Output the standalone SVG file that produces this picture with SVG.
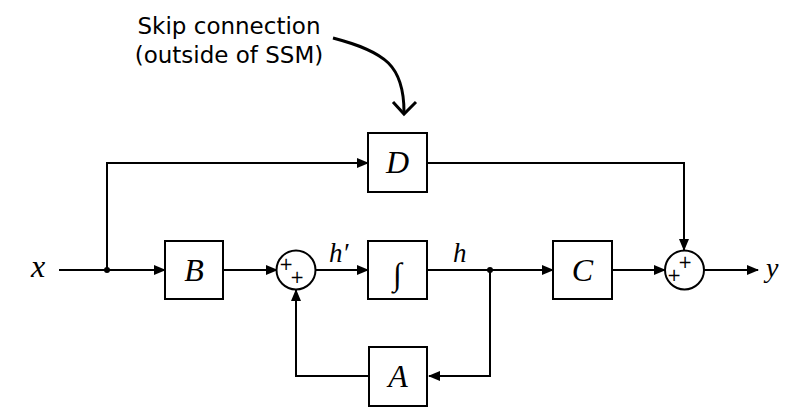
<svg xmlns="http://www.w3.org/2000/svg" width="811" height="414" viewBox="0 0 811 414">
<style>
.box{fill:#fff;stroke:#000;stroke-width:2}
.sum{fill:#fff;stroke:#000;stroke-width:2}
.wire{fill:none;stroke:#000;stroke-width:2}
.m{font-family:"Liberation Serif","DejaVu Serif",serif;font-style:italic;fill:#000}
.lbl{font-family:"Liberation Serif","DejaVu Serif",serif;font-style:italic;font-size:32px;text-anchor:middle;fill:#000}
.pl{font-family:"DejaVu Sans",sans-serif;font-size:17px;text-anchor:middle;fill:#000}
.note{font-family:"DejaVu Sans",sans-serif;font-size:23px;text-anchor:middle;fill:#000}
</style>
<defs>
<marker id="ah" markerWidth="12" markerHeight="10" refX="11" refY="5" orient="auto" markerUnits="userSpaceOnUse">
<path d="M0,0 L12,5 L0,10 z" fill="#000"/>
</marker>
</defs>
<rect width="811" height="414" fill="#fff"/>
<g id="note">
<text class="note" x="229" y="34">Skip connection</text>
<text class="note" x="229" y="63">(outside of SSM)</text>
<path d="M333,38 C386,52 404,66 404,112" fill="none" stroke="#000" stroke-width="3"/>
<path d="M393,102 L404,114 L416,102" fill="none" stroke="#000" stroke-width="3"/>
</g>
<g id="connectors">
<line class="wire" x1="59" y1="270" x2="165" y2="270" marker-end="url(#ah)"/>
<polyline class="wire" points="107,270 107,163 368,163" marker-end="url(#ah)"/>
<line class="wire" x1="223" y1="270" x2="277" y2="270" marker-end="url(#ah)"/>
<line class="wire" x1="315" y1="270" x2="368" y2="270" marker-end="url(#ah)"/>
<line class="wire" x1="427" y1="270" x2="553" y2="270" marker-end="url(#ah)"/>
<polyline class="wire" points="490,270 490,376 429,376" marker-end="url(#ah)"/>
<polyline class="wire" points="369,376 296,376 296,290" marker-end="url(#ah)"/>
<line class="wire" x1="612" y1="270" x2="665" y2="270" marker-end="url(#ah)"/>
<polyline class="wire" points="427,163 684,163 684,250" marker-end="url(#ah)"/>
<line class="wire" x1="704" y1="270" x2="758" y2="270" marker-end="url(#ah)"/>
<circle cx="107" cy="270" r="3" fill="#000"/>
<circle cx="490" cy="270" r="3" fill="#000"/>
</g>
<g id="x"><text class="m" x="31" y="277" font-size="32">x</text></g>
<g id="hp"><text class="m" x="329" y="262" font-size="27">h′</text></g>
<g id="h"><text class="m" x="453" y="262" font-size="27">h</text></g>
<g id="y"><text class="m" x="766" y="277" font-size="28">y</text></g>
<g id="B"><rect class="box" x="165" y="241" width="58" height="58"/><text class="lbl" x="194" y="281">B</text></g>
<g id="D"><rect class="box" x="368" y="133" width="59" height="59"/><text class="lbl" x="397.5" y="173">D</text></g>
<g id="I"><rect class="box" x="368" y="241" width="59" height="58"/><text class="lbl" x="397.5" y="285" font-size="38">∫</text></g>
<g id="C"><rect class="box" x="553" y="241" width="59" height="58"/><text class="lbl" x="582.5" y="281">C</text></g>
<g id="A"><rect class="box" x="369" y="347" width="58" height="59"/><text class="lbl" x="398" y="387">A</text></g>
<g id="sum1"><circle class="sum" cx="296" cy="270" r="19.5"/><text class="pl" x="286" y="270">+</text><text class="pl" x="297" y="283">+</text></g>
<g id="sum2"><circle class="sum" cx="684.5" cy="270" r="19.5"/><text class="pl" x="674" y="281">+</text><text class="pl" x="685" y="268">+</text></g>
</svg>
